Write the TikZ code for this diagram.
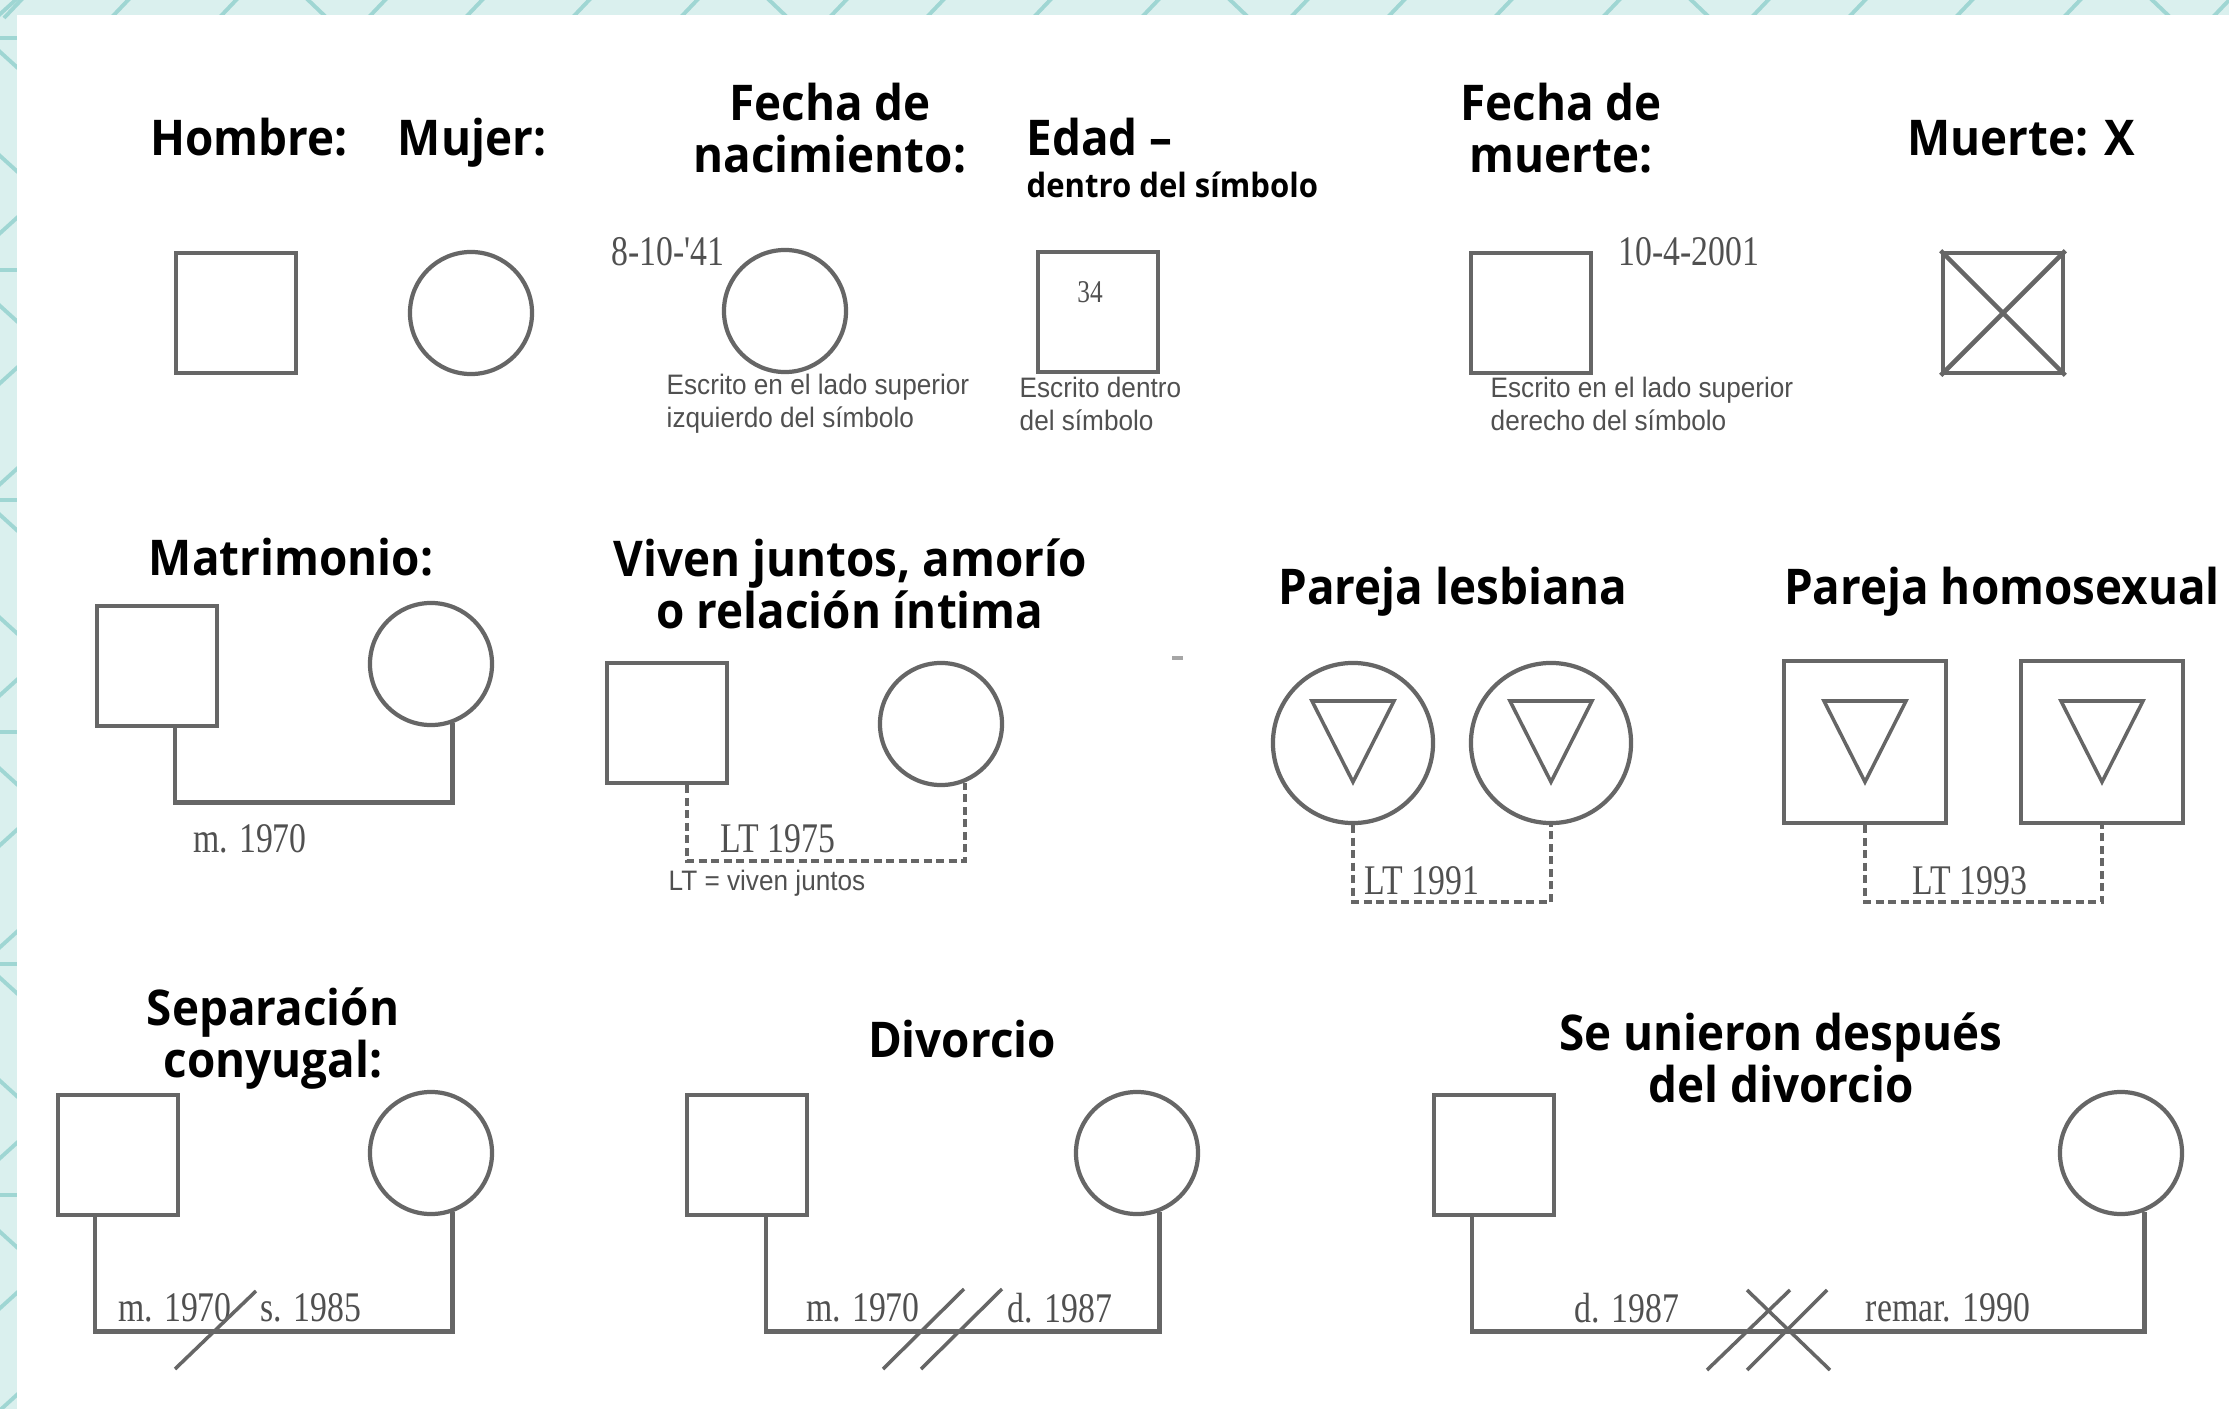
\documentclass[tikz,border=0pt]{standalone}
\usepackage{fontspec}
\setmainfont{Open Sans}
\newfontfamily\tfont{Open Sans}[FakeStretch=0.93]
\newfontfamily\nfont{Liberation Sans}[FakeStretch=0.93]
\newfontfamily\dfont{Liberation Serif}[FakeStretch=0.8]
\usetikzlibrary{calc}
\definecolor{bgteal}{HTML}{DAF0EE}
\definecolor{lnteal}{HTML}{9FD6D3}
\definecolor{symgray}{HTML}{666666}
\definecolor{txtgray}{HTML}{505050}
\begin{document}
\begin{tikzpicture}[x=0.01cm,y=-0.01cm,
  title/.style={font=\tfont\bfseries\fontsize{14}{14.8}\selectfont, align=center, inner sep=0pt, text=black},
  small/.style={font=\tfont\bfseries\fontsize{9.5}{10}\selectfont, inner sep=0pt, text=black},
  sqr/.style={draw=symgray, line width=1.3pt, fill=white, rectangle, minimum size=#1, inner sep=0pt},
  sqr/.default=1.2cm,
  circ/.style={draw=symgray, line width=1.2pt, fill=white, circle, minimum size=#1, inner sep=0pt},
  circ/.default=1.22cm,
  conn/.style={draw=symgray, line width=1.3pt},
  dconn/.style={draw=symgray, line width=1.1pt, dash pattern=on 0.08cm off 0.045cm},
  tri/.style={draw=symgray, line width=1pt},
  date/.style={font=\dfont\fontsize{12}{12}\selectfont, text=txtgray, inner sep=0pt},
  note/.style={font=\nfont\fontsize{8}{9.4}\selectfont, text=txtgray, align=left, inner sep=0pt, anchor=west},
  slash/.style={draw=symgray, line width=1pt},
  tline/.style={draw=lnteal, line width=1.1pt}
]
\useasboundingbox (0,0) rectangle (2229,1409);
% background
\fill[bgteal] (0,0) rectangle (2229,1409);
\foreach \k in {-1,0,1,2,3,4}{
  \draw[tline] ({316+461*\k-11},-3) -- ++(22,21);
  \foreach \d in {62,159,266,374}{
    \draw[tline] ({316+461*\k+\d-10},18) -- ++(20,-21);
  }
}
\foreach \y in {60,164,314,523,626,777,986,1089,1240}{
  \draw[tline] (-2,{\y-10}) -- (20,{\y+10});
}
\foreach \y in {6,225,375,476,687,837,939,1150,1300,1402}{
  \draw[tline] (-2,{\y+10}) -- (20,{\y-10});
}
\foreach \y in {38,270,500,732,964,1195}{
  \draw[tline] (-2,\y) -- (20,\y);
}
\fill[white] (17,15) rectangle (2229,1409);

% ---------- Row 1 ----------
\node[title, anchor=base] (tHombre) at (249,156) {Hombre:};
\node[title, anchor=base] (tMujer) at (472,156) {Mujer:};
\node[title] (tNac) at (830,128) {Fecha de\\nacimiento:};
\node[title, anchor=base west] (tEdad) at (1026,156) {Edad –};
\node[small, anchor=west] (tEdad2) at (1026,185) {dentro del símbolo};
\node[title] (tMuerteF) at (1561,128) {Fecha de\\muerte:};
\node[title, anchor=base] (tMuerte) at (2021,156) {Muerte: X};

\node[sqr] (h1) at (236,313) {};
\node[circ] (m1) at (471,313) {};
\node[circ] (m2) at (785,311) {};
\node[sqr] (e1) at (1098,312) {};
\node[sqr] (d1) at (1531,313) {};
\node[sqr] (x1) at (2003,313) {};
\draw[conn] (x1.north west) -- (x1.south east);
\draw[conn] (x1.north east) -- (x1.south west);

\node[date] (dNac) at (668,252) {8-10-'41};
\node[date] (dMuer) at (1689,252) {10-4-2001};
\node[date, font=\dfont\fontsize{9}{9}\selectfont] (dEdad) at (1090,292) {34};

\node[note] (n1) at (666,404) {Escrito en el lado superior\\izquierdo del símbolo};
\node[note] (n2) at (1019,404) {Escrito dentro\\del símbolo};
\node[note] (n3) at (1490,404) {Escrito en el lado superior\\derecho del símbolo};

% ---------- Row 2 ----------
\node[title] (tMat) at (291,557) {Matrimonio:};
\node[sqr] (ma1) at (157,666) {};
\node[circ] (ma2) at (431,664) {};
\draw[conn] ([xshift=0.18cm]ma1.south) -- ++(0,74) -| (ma2.-70);
\node[date] (lMat) at (250,839) {m. 1970};

\node[title] (tViv) at (850,584) {Viven juntos, amorío\\o relación íntima};
\node[sqr] (vj1) at (667,723) {};
\node[circ] (vj2) at (941,724) {};
\draw[dconn] ([xshift=0.2cm]vj1.south) -- ++(0,76) -| (vj2.-68);
\node[date] (lViv) at (778,839) {LT 1975};
\node[note] (nViv) at (668,883) {LT = viven juntos};

\draw[draw=gray!70, line width=1.2pt] (1172,658) -- (1183,658);

\node[title, anchor=base] (tLes) at (1453,604) {Pareja lesbiana};
\node[circ=1.6cm] (lb1) at (1353,743) {};
\node[circ=1.6cm] (lb2) at (1551,743) {};
\draw[tri] (lb1.center) ++(-41,-42) -- ++(82,0) -- ++(-41,81) -- cycle;
\draw[tri] (lb2.center) ++(-41,-42) -- ++(82,0) -- ++(-41,81) -- cycle;
\draw[dconn] (lb1.south) -- ++(0,77) -| (lb2.south);
\node[date] (lLes) at (1422,881) {LT 1991};

\node[title, anchor=base] (tHom) at (2002,604) {Pareja homosexual};
\node[sqr=1.62cm] (hs1) at (1865,742) {};
\node[sqr=1.62cm] (hs2) at (2102,742) {};
\draw[tri] (hs1.center) ++(-41,-41) -- ++(82,0) -- ++(-41,81) -- cycle;
\draw[tri] (hs2.center) ++(-41,-41) -- ++(82,0) -- ++(-41,81) -- cycle;
\draw[dconn] (hs1.south) -- ++(0,77) -| (hs2.south);
\node[date] (lHom) at (1970,881) {LT 1993};

% ---------- Row 3 ----------
\node[title] (tSep) at (273,1039) {Separación\\conyugal:};
\node[sqr] (s1) at (118,1155) {};
\node[circ] (s2) at (431,1153) {};
\draw[conn] ([xshift=-0.23cm]s1.south) -- ++(0,114) -| (s2.-70);
\node[date] (lSep1) at (175,1308) {m. 1970};
\node[date] (lSep2) at (311,1308) {s. 1985};
\draw[slash] (175,1369) -- (256,1291);

\node[title] (tDiv) at (962,1039) {Divorcio};
\node[sqr] (dv1) at (747,1155) {};
\node[circ] (dv2) at (1137,1153) {};
\draw[conn] ([xshift=0.19cm]dv1.south) -- ++(0,114) -| (dv2.-69);
\node[date] (lDiv1) at (863,1308) {m. 1970};
\node[date] (lDiv2) at (1060,1308) {d. 1987};
\draw[slash] (883,1369) -- (964,1289);
\draw[slash] (921,1369) -- (1002,1289);

\node[title] (tUni) at (1781,1058) {Se unieron después\\del divorcio};
\node[sqr] (su1) at (1494,1155) {};
\node[circ] (su2) at (2121,1153) {};
\draw[conn] ([xshift=-0.22cm]su1.south) -- ++(0,114) -| (su2.-68);
\node[date] (lUni1) at (1627,1308) {d. 1987};
\node[date] (lUni2) at (1948,1308) {remar. 1990};
\draw[slash] (1707,1370) -- (1790,1290);
\draw[slash] (1747,1290) -- (1830,1370);
\draw[slash] (1747,1370) -- (1827,1290);
\end{tikzpicture}
\end{document}
